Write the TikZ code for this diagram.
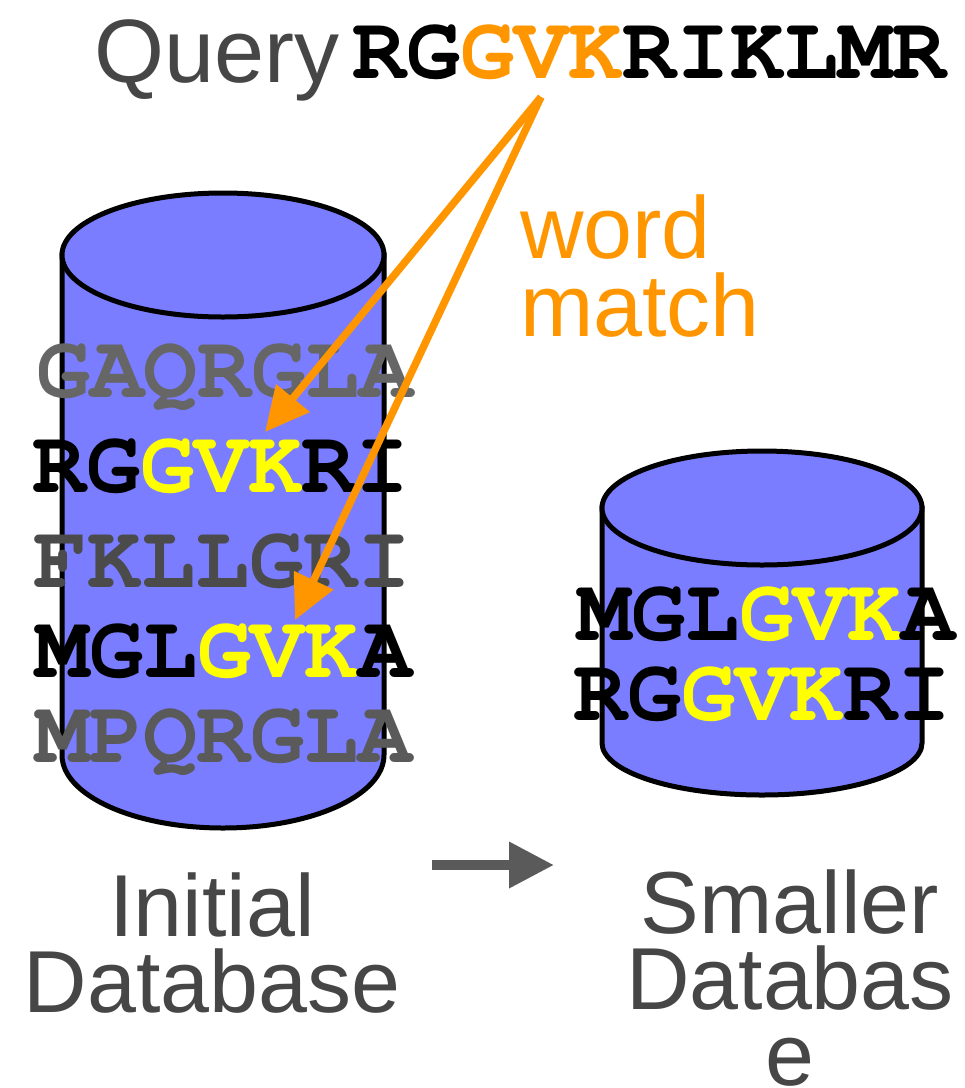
\documentclass[tikz,border=0pt]{standalone}
\usepackage[T1]{fontenc}
\usepackage{fontspec}
\setmainfont{Liberation Sans}
\newcommand\courbold{\fontencoding{T1}\fontfamily{pcr}\fontseries{b}\fontshape{n}\selectfont}
\usetikzlibrary{arrows.meta}
\definecolor{dbblue}{RGB}{122,125,255}
\definecolor{qorange}{RGB}{255,150,0}
\definecolor{hlyellow}{RGB}{255,255,0}
\definecolor{txtgray}{RGB}{70,70,70}
\definecolor{seqgrayA}{RGB}{102,102,102}
\definecolor{seqgrayB}{RGB}{75,75,75}
\definecolor{seqgrayC}{RGB}{90,90,90}
\definecolor{arrgray}{RGB}{90,90,90}
\begin{document}
\begin{tikzpicture}[x=1pt,y=-1pt,
  seq/.style={inner sep=0pt, anchor=base, font=\fontsize{90}{90}\courbold},
  lab/.style={inner sep=0pt, anchor=base, align=center, font=\fontsize{88}{76}\selectfont, text=txtgray},
  cyl/.style={fill=dbblue, draw=black, line width=5pt},
  matcharrow/.style={draw=qorange, line width=7.5pt, -{Triangle[length=44pt,width=42pt]}},
  steparrow/.style={draw=arrgray, line width=10pt, -{Triangle[length=45pt,width=44pt]}}
]
\useasboundingbox (0,0) rectangle (965,1088);

% left cylinder
\path[cyl] (62,255) -- (62,755) arc[start angle=180, end angle=0, x radius=161, y radius=73] -- (384,255) -- cycle;
\draw[cyl] (223,255) ellipse [x radius=161, y radius=62];

% right cylinder
\path[cyl] (602,508) -- (602,743) arc[start angle=180, end angle=0, x radius=160, y radius=52] -- (922,508) -- cycle;
\draw[cyl] (762,508) ellipse [x radius=160, y radius=57];

% query
\node[inner sep=0pt, anchor=base west, font=\fontsize{90}{90}\selectfont, text=txtgray] (query) at (94,82) {Query};
\node[seq] (qseq) at (649,78) {RG\textcolor{qorange}{GVK}RIKLMR};

% word match (base anchor = last line)
\node[inner sep=0pt, anchor=base west, align=left, font=\fontsize{88}{78}\selectfont, text=qorange] (wm) at (520,336) {word\\match};

% initial database sequences
\node[seq, text=seqgrayA] (s1) at (225,397) {GAQRGLA};
\node[seq] (s2) at (221,492) {RG\textcolor{hlyellow}{GVK}RI};
\node[seq, text=seqgrayB] (s3) at (223,587) {FKLLGRI};
\node[seq] (s4) at (224,677) {MGL\textcolor{hlyellow}{GVK}A};
\node[seq, text=seqgrayC] (s5) at (224,762) {MPQRGLA};

% smaller database sequences
\node[seq] (r1) at (766,640) {MGL\textcolor{hlyellow}{GVK}A};
\node[seq] (r2) at (762,720) {RG\textcolor{hlyellow}{GVK}RI};

% labels (base anchor = last line)
\node[lab] (l1) at (212,1012) {Initial\\Database};
\node[lab] (l2) at (790,1085) {Smaller\\Databas\\e};

% match arrows
\coordinate (apex) at (541,97);
\coordinate (tip1) at (265,432);
\coordinate (tip2) at (295,620);
\draw[matcharrow] (apex) -- (tip1);
\draw[matcharrow] (apex) -- (tip2);

% step arrow
\coordinate (g1) at (432,865);
\coordinate (g2) at (554,865);
\draw[steparrow] (g1) -- (g2);
\end{tikzpicture}
\end{document}
